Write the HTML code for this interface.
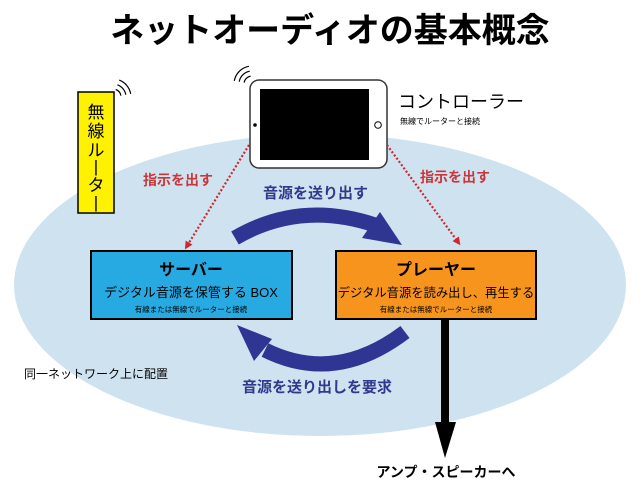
<!DOCTYPE html>
<html><head><meta charset="utf-8"><style>
html,body{margin:0;padding:0;background:#fff;}
svg{display:block;}
text{font-family:"Liberation Sans","Noto Sans CJK JP",sans-serif;}
</style></head><body>
<svg width="640" height="488" viewBox="0 0 640 488" xmlns="http://www.w3.org/2000/svg">
<defs>
<marker id="ra" markerWidth="8" markerHeight="8" refX="4" refY="4" orient="auto" markerUnits="userSpaceOnUse"><path d="M0,0 L8,4 L0,8 z" fill="#d0262e"/></marker>
</defs>
<ellipse cx="320" cy="285" rx="306" ry="151" fill="#cfe2f0"/>
<text x="330" y="42" font-size="34" font-weight="bold" text-anchor="middle">ネットオーディオの基本概念</text>
<!-- router -->
<rect x="78" y="92" width="36" height="121" fill="#fff200" stroke="#000" stroke-width="1.5"/>
<text x="96" y="118" font-size="17" text-anchor="middle">無</text>
<text x="96" y="137" font-size="17" text-anchor="middle">線</text>
<text x="96" y="156" font-size="17" text-anchor="middle">ル</text>
<text x="96" y="172" font-size="17" text-anchor="middle">|</text>
<text x="96" y="191" font-size="17" text-anchor="middle">タ</text>
<text x="96" y="208" font-size="17" text-anchor="middle">|</text>
<g fill="none" stroke="#000" stroke-width="1.2">
<path d="M115.7,89.5 A8,8 0 0 1 120.9,95.6"/><path d="M117.4,84.8 A13,13 0 0 1 125.8,94.7"/><path d="M119.2,80.1 A18,18 0 0 1 130.7,93.9"/>
<path d="M244.1,82.6 A8,8 0 0 1 250.6,76.1"/><path d="M239.2,81.7 A13,13 0 0 1 249.7,71.2"/><path d="M234.3,80.9 A18,18 0 0 1 248.9,66.3"/>
</g>
<!-- tablet -->
<rect x="250" y="80" width="137" height="88" rx="9" fill="#fff" stroke="#333" stroke-width="1.5"/>
<rect x="260" y="89" width="109" height="71" fill="#000"/>
<circle cx="255" cy="125" r="1.8" fill="#000"/>
<circle cx="378" cy="125" r="3.3" fill="none" stroke="#000" stroke-width="1"/>
<text x="398" y="108" font-size="18">コントローラー</text>
<text x="400" y="124" font-size="8">無線でルーターと接続</text>
<!-- dotted red -->
<line x1="249" y1="145" x2="187" y2="246" stroke="#d0262e" stroke-width="2.2" stroke-dasharray="2,2" marker-end="url(#ra)"/>
<line x1="387" y1="145" x2="458" y2="242" stroke="#d0262e" stroke-width="2.2" stroke-dasharray="2,2" marker-end="url(#ra)"/>
<text x="143" y="185" font-size="14" font-weight="bold" fill="#c8373a">指示を出す</text>
<text x="420" y="182" font-size="14" font-weight="bold" fill="#c8373a">指示を出す</text>
<text x="263" y="198" font-size="15" font-weight="bold" fill="#2e3a8c">音源を送り出す</text>
<!-- blue arrows -->
<path d="M235,238 Q300,200 375,225" fill="none" stroke="#2e3592" stroke-width="15"/>
<path d="M380,212 L402,245 L362,238 z" fill="#2e3592"/>
<path d="M405,332 Q335,385 265,350" fill="none" stroke="#2e3592" stroke-width="15"/>
<path d="M237,325 L272,339 L254,361 z" fill="#2e3592"/>
<text x="242" y="392" font-size="15" font-weight="bold" fill="#2e3a8c">音源を送り出しを要求</text>
<!-- boxes -->
<rect x="91" y="251" width="201" height="68" fill="#27aae1" stroke="#000" stroke-width="2"/>
<text x="191" y="275" font-size="16" font-weight="bold" text-anchor="middle">サーバー</text>
<text x="191" y="297" font-size="13" text-anchor="middle">デジタル音源を保管する BOX</text>
<text x="191" y="312" font-size="7.5" text-anchor="middle">有線または無線でルーターと接続</text>
<rect x="336" y="251" width="200" height="68" fill="#f7941d" stroke="#000" stroke-width="2"/>
<text x="436" y="275" font-size="16" font-weight="bold" text-anchor="middle">プレーヤー</text>
<text x="436" y="297" font-size="12.3" text-anchor="middle">デジタル音源を読み出し、再生する</text>
<text x="436" y="312" font-size="7.5" text-anchor="middle">有線または無線でルーターと接続</text>
<!-- black arrow -->
<rect x="441" y="319" width="8" height="104" fill="#000"/>
<path d="M435,422 L456,422 L445,458 z" fill="#000"/>
<text x="446" y="477" font-size="14" font-weight="bold" text-anchor="middle">アンプ・スピーカーへ</text>
<text x="24" y="378" font-size="12">同一ネットワーク上に配置</text>
</svg>
</body></html>
